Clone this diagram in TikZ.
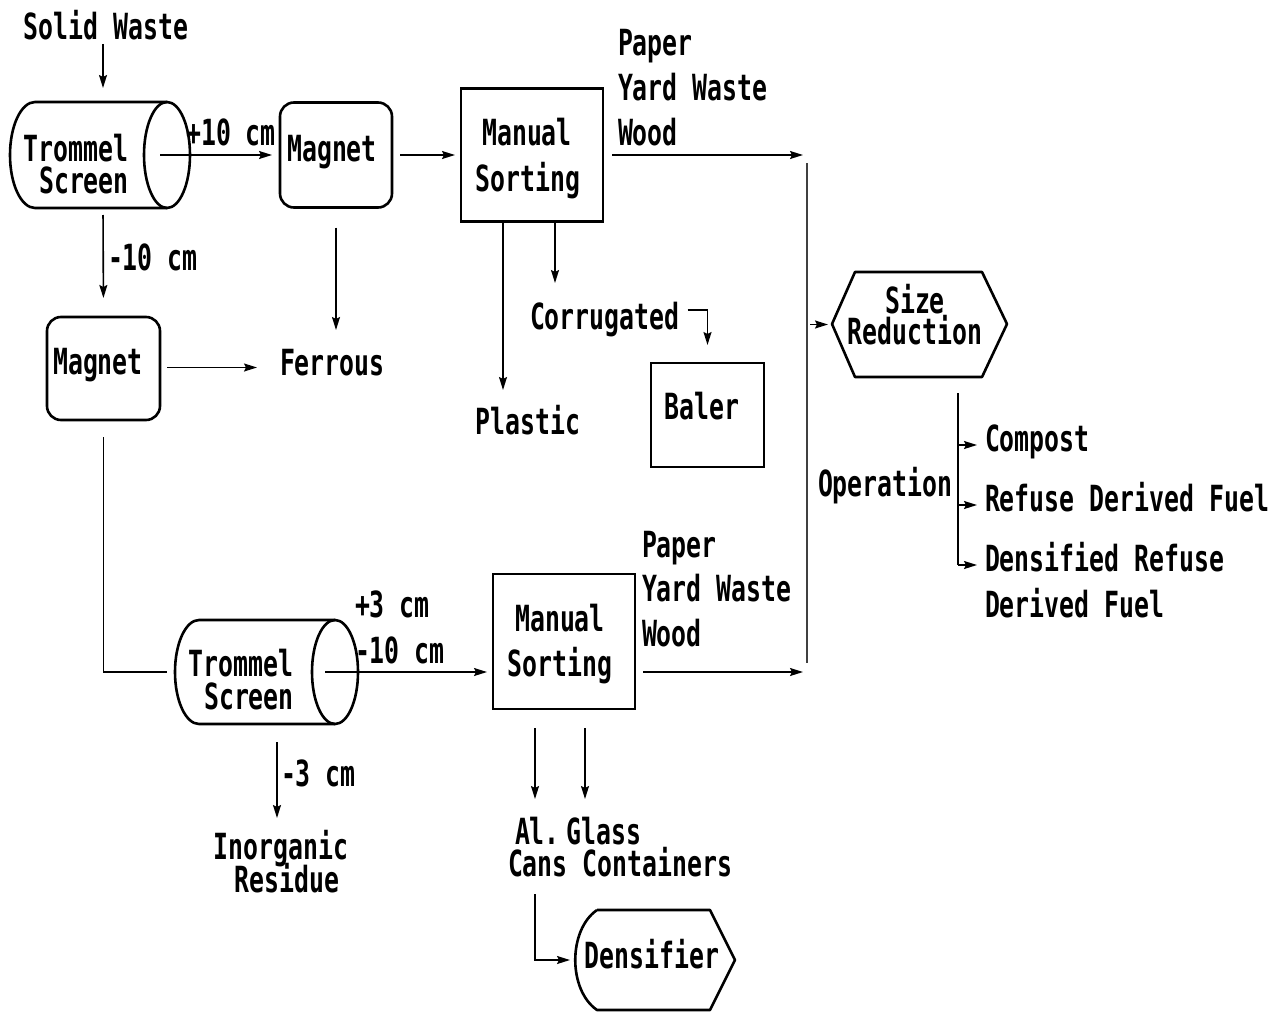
\documentclass[tikz,border=0pt]{standalone}
\usepackage{fontspec}
\newfontfamily\dm{DejaVu Sans Mono}[FakeStretch=0.69]
\usetikzlibrary{arrows.meta,calc}
\tikzset{
  txt/.style={font=\dm\bfseries\fontsize{36}{40}\selectfont, inner sep=0pt, outer sep=0pt, text height=26pt, text depth=0pt},
  hid/.style={inner sep=0pt, outer sep=0pt, draw=none},
  boxline/.style={line width=2.6pt, line join=round},
  sqbox/.style={hid, draw, line width=2.8pt},
  rbox/.style={hid, draw, line width=2.6pt, rounded corners=14pt},
  conn/.style={line width=1.6pt, -{Stealth[length=13pt,width=8pt,inset=2pt]}},
  plainln/.style={line width=1.6pt},
  busln/.style={line width=2pt, draw=black!75},
}
\begin{document}
\begin{tikzpicture}[x=1pt,y=-1pt]
\useasboundingbox (0,0) rectangle (1273,1014);

% ---------- shapes ----------
\node[hid, minimum width=180pt, minimum height=106pt] (tr1) at (100,155) {};
\draw[boxline] (167,102) -- (35,102) arc[start angle=-90,end angle=-270,x radius=25,y radius=53] -- (167,208);
\draw[boxline] (167,155) ellipse[x radius=23,y radius=53];

\node[rbox, minimum width=112pt, minimum height=105pt] (mg1) at (336,155) {};
\node[sqbox, minimum width=142pt, minimum height=133pt] (ms1) at (532,155) {};
\node[rbox, minimum width=113pt, minimum height=103pt] (mg2) at (103.5,368.5) {};
\node[sqbox, minimum width=113pt, minimum height=104pt] (ba) at (707.5,415) {};

\node[hid, minimum width=175pt, minimum height=105pt] (sr) at (919.5,324.5) {};
\draw[boxline] (832,324) -- (855,272) -- (982,272) -- (1007,324) -- (982,377) -- (855,377) -- cycle;

\node[hid, minimum width=182pt, minimum height=104pt] (tr2) at (266,672) {};
\draw[boxline] (335,620) -- (199,620) arc[start angle=-90,end angle=-270,x radius=24,y radius=52] -- (335,724);
\draw[boxline] (335,672) ellipse[x radius=23,y radius=52];

\node[sqbox, minimum width=142pt, minimum height=135pt] (ms2) at (564,641.5) {};

\node[hid, minimum width=160pt, minimum height=100pt] (dn) at (655,960) {};
\draw[boxline] (597,910) -- (710,910) -- (735,960) -- (710,1010) -- (597,1010) .. controls (568,990) and (568,930) .. (597,910);

% ---------- texts ----------
\node[txt] (sw) at (106,27) {Solid Waste};
\node[txt] (tr1a) at (76,148) {Trommel};
\node[txt] (tr1b) at (84,180) {Screen};
\node[txt] (l10) at (231,133) {+10 cm};
\node[txt] (mg1t) at (332,148) {Magnet};
\node[txt] (ms1a) at (527,133) {Manual};
\node[txt] (ms1b) at (528,178) {Sorting};
\node[txt, anchor=west] (pa1) at (618,43) {Paper};
\node[txt, anchor=west] (yw1) at (618,88) {Yard Waste};
\node[txt, anchor=west] (wo1) at (618,132) {Wood};
\node[txt, anchor=west] (m10) at (108,257) {-10 cm};
\node[txt] (mg2t) at (98,361) {Magnet};
\node[txt, anchor=west] (fe) at (280,362) {Ferrous};
\node[txt, anchor=west] (co) at (530,316) {Corrugated};
\node[txt] (pl) at (528,421) {Plastic};
\node[txt] (bat) at (702,406) {Baler};
\node[txt] (sz) at (915,300) {Size};
\node[txt] (rd) at (915,331) {Reduction};
\node[txt, anchor=west] (op) at (818,483) {Operation};
\node[txt, anchor=west] (cp) at (985,438) {Compost};
\node[txt, anchor=west] (rdf) at (985,498) {Refuse Derived Fuel};
\node[txt, anchor=west] (drf) at (985,558) {Densified Refuse};
\node[txt, anchor=west] (df) at (985,604) {Derived Fuel};
\node[txt] (tr2a) at (241,663) {Trommel};
\node[txt] (tr2b) at (249,696) {Screen};
\node[txt, anchor=west] (p3) at (355,604) {+3 cm};
\node[txt, anchor=west] (m10b) at (355,650) {-10 cm};
\node[txt] (ms2a) at (560,618) {Manual};
\node[txt] (ms2b) at (560,663) {Sorting};
\node[txt, anchor=west] (pa2) at (642,544) {Paper};
\node[txt, anchor=west] (yw2) at (642,588) {Yard Waste};
\node[txt, anchor=west] (wo2) at (642,633) {Wood};
\node[txt, anchor=west] (m3) at (281,773) {-3 cm};
\node[txt] (inorg) at (281,846) {Inorganic};
\node[txt] (resid) at (287,879) {Residue};
\node[txt, anchor=west] (al) at (515,831) {Al.\kern7pt\relax Glass};
\node[txt, anchor=west] (cans) at (508,863) {Cans Containers};
\node[txt] (dens) at (652,955) {Densifier};

% ---------- bus ----------
\coordinate (bust) at (807,163);
\coordinate (busb) at (807,663);
\draw[busln] (bust) -- (busb);

% ---------- connectors ----------
\draw[conn, shorten >=14pt] ([xshift=-3pt,yshift=-4pt]sw.south) -- ([xshift=3pt]tr1.north);
\draw[conn, shorten >=8pt] ([xshift=-30pt]tr1.east) -- (mg1.west);
\draw[conn, shorten <=8pt, shorten >=6pt] (mg1.east) -- (ms1.west);
\draw[conn, shorten <=9pt, shorten >=4pt] (ms1.east) -- (ms1.east -| bust);
\draw[conn, shorten <=3pt, shorten >=4pt] (sr.west -| bust) -- (sr.west);
\draw[conn, shorten <=7pt, shorten >=19pt] ([xshift=3pt]tr1.south) -- (mg2.north);
\draw[conn, shorten <=7pt, shorten >=23pt] ([yshift=1pt]mg2.east) -- ([yshift=1pt]mg2.east -| fe.west);
\draw[conn, shorten <=20pt, shorten >=19pt] (mg1.south) -- (mg1.south |- fe.north);
\draw[conn, shorten >=18pt] ([xshift=-29pt]ms1.south) -- ([xshift=-29pt]ms1.south |- pl.north);
\draw[conn, shorten >=20pt] ([xshift=23pt]ms1.south) -- ([xshift=23pt]ms1.south |- co.north);
\draw[conn, shorten >=18pt] ([shift={(8pt,6pt)}]co.east) -| (ba.north);
\draw[plainln] ([yshift=-17pt]mg2.south) |- ([xshift=-8pt]tr2.west);
\draw[conn, shorten >=6pt] ([xshift=-32pt]tr2.east) -- (tr2.east -| ms2.west);
\draw[conn, shorten <=8pt, shorten >=4pt] ([yshift=-30.5pt]ms2.east) -- ([yshift=-30.5pt]ms2.east -| bust);
\draw[conn, shorten <=18pt, shorten >=15pt] ([xshift=11pt]tr2.south) -- ([xshift=11pt]tr2.south |- inorg.north);
\draw[conn, shorten <=19pt, shorten >=19pt] ([xshift=-29pt]ms2.south) -- ([xshift=-29pt]ms2.south |- al.north);
\draw[conn, shorten <=19pt, shorten >=19pt] ([xshift=21pt]ms2.south) -- ([xshift=21pt]ms2.south |- al.north);
\draw[conn, shorten >=5pt] ([xshift=-85pt,yshift=-18pt]cans.south) |- (dn.west);

\coordinate (opt) at (958,393);
\draw[plainln] (opt) -- ([yshift=-7pt]opt |- drf.west);
\draw[conn, shorten >=8pt] ([yshift=-7pt]opt |- cp.west) -- ([yshift=-7pt]cp.west);
\draw[conn, shorten >=8pt] ([yshift=-7pt]opt |- rdf.west) -- ([yshift=-7pt]rdf.west);
\draw[conn, shorten >=8pt] ([yshift=-7pt]opt |- drf.west) -- ([yshift=-7pt]drf.west);
\end{tikzpicture}
\end{document}
